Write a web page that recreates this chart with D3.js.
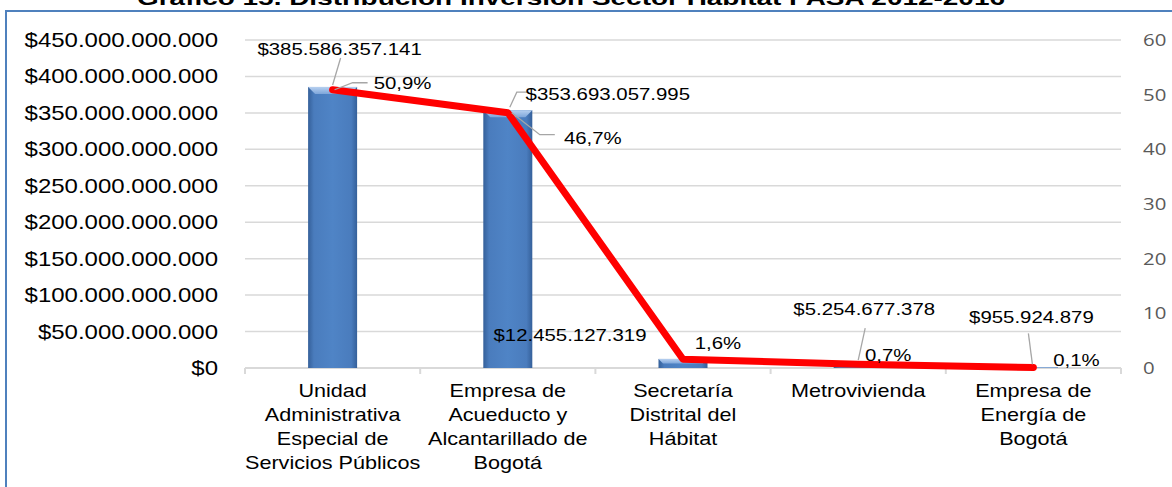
<!DOCTYPE html>
<html>
<head>
<meta charset="utf-8">
<script src="https://cdn.jsdelivr.net/npm/d3@7"></script>
<style>
  html, body { margin: 0; padding: 0; background: #fff; }
  svg { display: block; font-family: "Liberation Sans", Arial, sans-serif; }
</style>
</head>
<body>
<div id="chart"></div>
<script>
// data
const categorias = [
  ['Unidad', 'Administrativa', 'Especial de', 'Servicios Públicos'],
  ['Empresa de', 'Acueducto y', 'Alcantarillado de', 'Bogotá'],
  ['Secretaría', 'Distrital del', 'Hábitat'],
  ['Metrovivienda'],
  ['Empresa de', 'Energía de', 'Bogotá']
];
const inversion = [385586357141, 353693057995, 12455127319, 5254677378, 955924879];
const porcentaje = [50.9, 46.7, 1.6, 0.7, 0.1];
const ticksIzq = [0, 50e9, 100e9, 150e9, 200e9, 250e9, 300e9, 350e9, 400e9, 450e9];
const ticksDer = [0, 10, 20, 30, 40, 50, 60];
const titulo = 'Gráfico 15. Distribución Inversión Sector Hábitat PASA 2012-2016';

const W = 1172, H = 487;
const SX = 1.2; // the picture is stretched horizontally
const m = { left: 245, right: 1121, top: 40, bottom: 368 };

const loc = d3.formatLocale({ decimal: ',', thousands: '.', grouping: [3], currency: ['$', ''] });
const fmtMoney = loc.format('$,.0f');
const fmtPct = v => loc.format(',.1f')(v) + '%';

const svg = d3.select('#chart').append('svg')
  .attr('width', W).attr('height', H);

// stretched text helper
function label(g, x, y, txt, size, anchor, fill) {
  return g.append('text')
    .attr('transform', `translate(${x},${y}) scale(${SX},1)`)
    .attr('text-anchor', anchor)
    .attr('font-size', size)
    .attr('fill', fill || '#000')
    .text(txt);
}

const names = categorias.map(c => c.join(' '));
const x = d3.scaleBand().domain(names).range([m.left, m.right]);
const yL = d3.scaleLinear().domain([0, 450e9]).range([m.bottom, m.top]);
const yR = d3.scaleLinear().domain([0, 60]).range([m.bottom, m.top]);

// frame
svg.append('rect')
  .attr('x', 6).attr('y', 11).attr('width', 1300).attr('height', 600)
  .attr('fill', 'none').attr('stroke', '#4f81bd').attr('stroke-width', 2);

// title (only the bottom part is visible)
svg.append('text')
  .attr('x', 571).attr('y', 5)
  .attr('text-anchor', 'middle')
  .attr('font-size', 21).attr('font-weight', 'bold')
  .attr('textLength', 868).attr('lengthAdjust', 'spacingAndGlyphs')
  .text(titulo);

// gridlines
svg.append('g')
  .selectAll('line')
  .data(ticksIzq.slice(1))
  .join('line')
    .attr('x1', m.left).attr('x2', m.right)
    .attr('y1', d => yL(d)).attr('y2', d => yL(d))
    .attr('stroke', '#d9d9d9').attr('stroke-width', 1.5);

// x axis line + ticks
const ax = svg.append('g');
ax.append('line')
  .attr('x1', m.left).attr('x2', m.right)
  .attr('y1', m.bottom).attr('y2', m.bottom)
  .attr('stroke', '#d9d9d9').attr('stroke-width', 2);
ax.selectAll('.tk')
  .data(names.map(n => x(n)).concat([m.right]))
  .join('line')
    .attr('x1', d => d).attr('x2', d => d)
    .attr('y1', m.bottom).attr('y2', m.bottom + 6)
    .attr('stroke', '#d9d9d9').attr('stroke-width', 2);

// left axis labels
const gl = svg.append('g');
ticksIzq.forEach(t => label(gl, 218, yL(t) + 7, fmtMoney(t), 20, 'end'));

// right axis labels
const gr = svg.append('g').style('font-family', '"Open Sans", sans-serif');
ticksDer.forEach(t => label(gr, 1143, yR(t) + 6, t, 17, 'start', '#595959'));

// category labels
const gc = svg.append('g');
categorias.forEach((lines, i) => {
  const cx = x(names[i]) + x.bandwidth() / 2;
  lines.forEach((ln, j) => label(gc, cx, 397 + j * 24, ln, 18, 'middle'));
});

// bars
const defs = svg.append('defs');
const grad = defs.append('linearGradient').attr('id', 'barGrad')
  .attr('x1', 0).attr('x2', 1).attr('y1', 0).attr('y2', 0);
[[0, '#35609a'], [0.12, '#4a7cbd'], [0.5, '#4f84c6'], [0.88, '#4a7cbd'], [1, '#35609a']]
  .forEach(([o, c]) => grad.append('stop').attr('offset', o).attr('stop-color', c));
const gradTop = defs.append('linearGradient').attr('id', 'topGrad')
  .attr('x1', 0).attr('x2', 0).attr('y1', 0).attr('y2', 1);
[[0, '#b7d0f0'], [1, '#7ea6da']]
  .forEach(([o, c]) => gradTop.append('stop').attr('offset', o).attr('stop-color', c));

const bw = 49;
const gb = svg.append('g');
inversion.forEach((v, i) => {
  const cx = x(names[i]) + x.bandwidth() / 2;
  const y0 = yL(v), h = m.bottom - y0;
  gb.append('rect')
    .attr('x', cx - bw / 2).attr('y', y0)
    .attr('width', bw).attr('height', h)
    .attr('fill', 'url(#barGrad)');
  const bv = Math.min(7, h / 2);
  gb.append('path')
    .attr('d', `M${cx - bw / 2},${y0} L${cx + bw / 2},${y0} L${cx + bw / 2 - bv},${y0 + bv} L${cx - bw / 2 + bv},${y0 + bv} Z`)
    .attr('fill', 'url(#topGrad)');
});

// percentage line
const pts = porcentaje.map((p, i) => [x(names[i]) + x.bandwidth() / 2, yR(p)]);
svg.append('path')
  .datum(pts)
  .attr('fill', 'none')
  .attr('stroke', '#ff0000')
  .attr('stroke-width', 7)
  .attr('stroke-linejoin', 'round')
  .attr('stroke-linecap', 'round')
  .attr('d', d3.line());

// data labels: offsets from the mark, plus leader lines
const offVal = [[7, -32], [100, -10], [-113, -18], [6, -49], [-2, -44]];
const offPct = [[70, -1], [85, 31], [35, -10], [30, -3], [43, -1]];
const leadVal = [
  [[0, -2], [8, -29]],
  [[2, -3], [9, -18], [20, -18]],
  null,
  [[0, -4], [7, -36]],
  [[-1, -3], [-5, -34]]
];
const leadPct = [
  [[2, 0], [20, -7], [35, -7]],
  [[4, 0], [32, 22], [47, 22]],
  null, null, null
];

const gd = svg.append('g');
inversion.forEach((v, i) => {
  const [px, py0] = pts[i];
  const by = yL(v);
  [[leadVal[i], by], [leadPct[i], py0]].forEach(([ld, yy]) => {
    if (!ld) return;
    gd.append('path')
      .attr('d', d3.line()(ld.map(([dx, dy]) => [px + dx, yy + dy])))
      .attr('fill', 'none').attr('stroke', '#a6a6a6').attr('stroke-width', 1.3);
  });
  label(gd, px + offVal[i][0], by + offVal[i][1], fmtMoney(v), 17, 'middle');
  label(gd, px + offPct[i][0], py0 + offPct[i][1], fmtPct(porcentaje[i]), 17, 'middle');
});
</script>
</body>
</html>
